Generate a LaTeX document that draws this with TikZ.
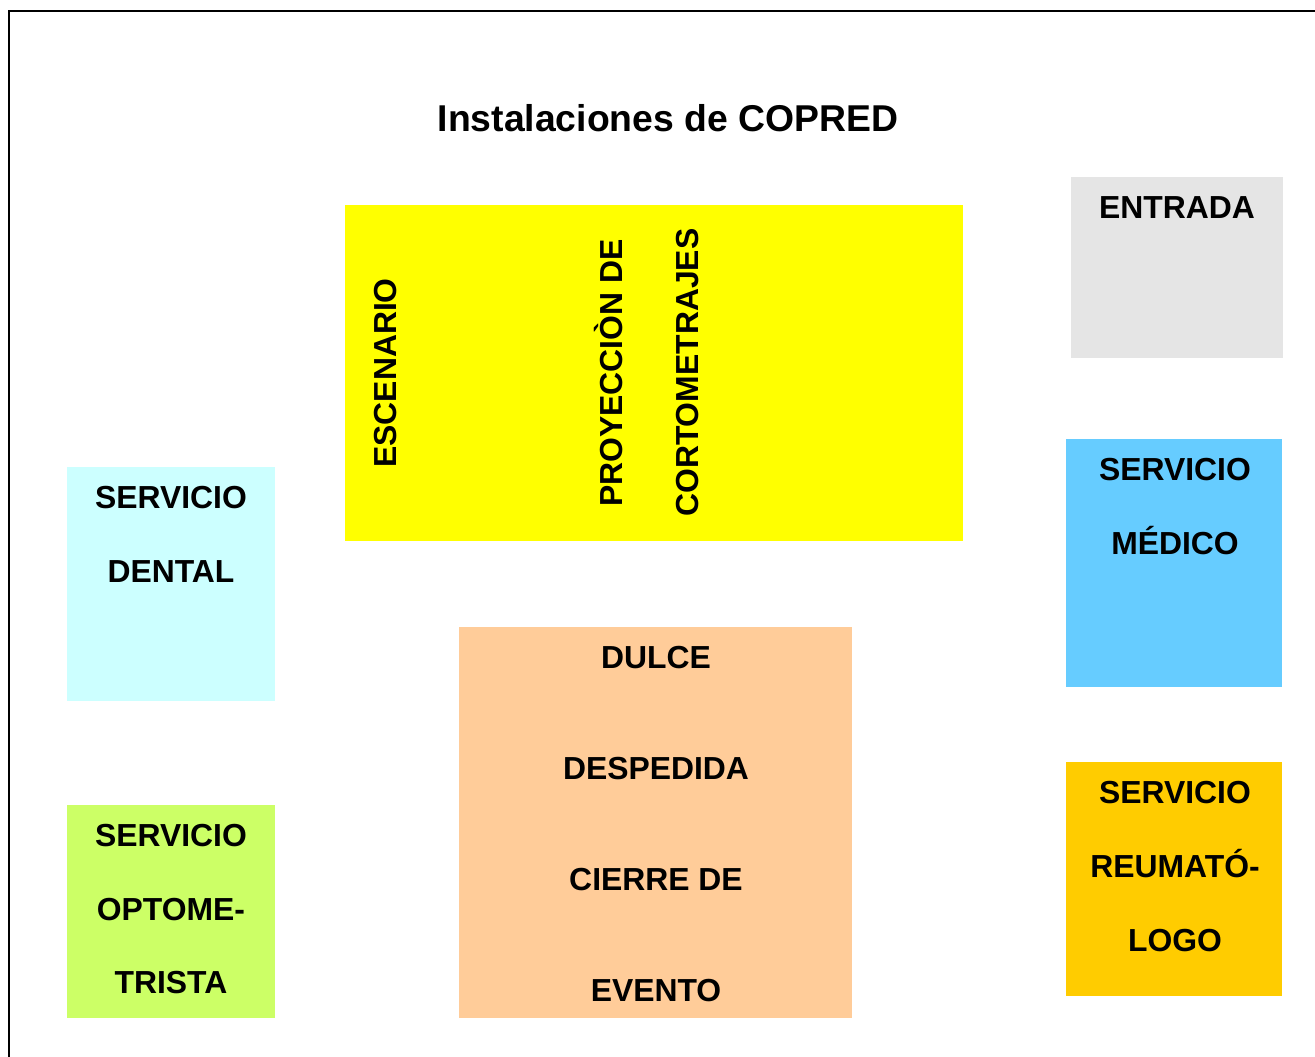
\documentclass[tikz,border=0pt]{standalone}
\usepackage{fontspec}
\setmainfont{Liberation Sans}
\definecolor{cyellow}{HTML}{FFFF00}
\definecolor{cgray}{HTML}{E5E5E5}
\definecolor{cblue}{HTML}{66CCFF}
\definecolor{corange}{HTML}{FFCC00}
\definecolor{ccyan}{HTML}{CCFFFF}
\definecolor{clime}{HTML}{CCFF66}
\definecolor{cpeach}{HTML}{FFCC99}
\begin{document}
\begin{tikzpicture}[x=0.75pt,y=-0.75pt,
  lbl/.style={anchor=base,inner sep=0pt,font=\fontsize{23.9}{28}\selectfont\bfseries},
  vlbl/.style={anchor=base west,rotate=90,inner sep=0pt,font=\fontsize{23.9}{28}\selectfont\bfseries}]
\useasboundingbox (0,0) rectangle (1315,1057);
\draw[line width=1.6pt] (9,1057) -- (9,11) -- (1315,11);
\node[anchor=base,inner sep=0pt,font=\fontsize{28}{33}\selectfont\bfseries] (title) at (668,131) {Instalaciones de COPRED};
% rooms
\fill[cyellow] (345,205) rectangle (963,541);
\fill[cgray] (1071,177) rectangle (1283,358);
\fill[cblue] (1066,439) rectangle (1282,687);
\fill[corange] (1066,762) rectangle (1282,996);
\fill[ccyan] (67,467) rectangle (275,701);
\fill[clime] (67,805) rectangle (275,1018);
\fill[cpeach] (459,627) rectangle (852,1018);
% labels
\node[vlbl] (esc) at (396,468) {ESCENARIO};
\node[vlbl] (proy) at (622,507) {PROYECCIÒN DE};
\node[vlbl] (corto) at (698,517) {CORTOMETRAJES};
\node[lbl] (ent) at (1177,218) {ENTRADA};
\node[lbl] (m1) at (1175,480) {SERVICIO};
\node[lbl] (m2) at (1175,554) {MÉDICO};
\node[lbl] (r1) at (1175,803) {SERVICIO};
\node[lbl] (r2) at (1175,877) {REUMATÓ-};
\node[lbl] (r3) at (1175,951) {LOGO};
\node[lbl] (d1) at (171,508) {SERVICIO};
\node[lbl] (d2) at (171,582) {DENTAL};
\node[lbl] (o1) at (171,846) {SERVICIO};
\node[lbl] (o2) at (171,920) {OPTOME-};
\node[lbl] (o3) at (171,993) {TRISTA};
\node[lbl] (e1) at (656,668) {DULCE};
\node[lbl] (e2) at (656,779) {DESPEDIDA};
\node[lbl] (e3) at (656,890) {CIERRE DE};
\node[lbl] (e4) at (656,1001) {EVENTO};
\end{tikzpicture}
\end{document}
